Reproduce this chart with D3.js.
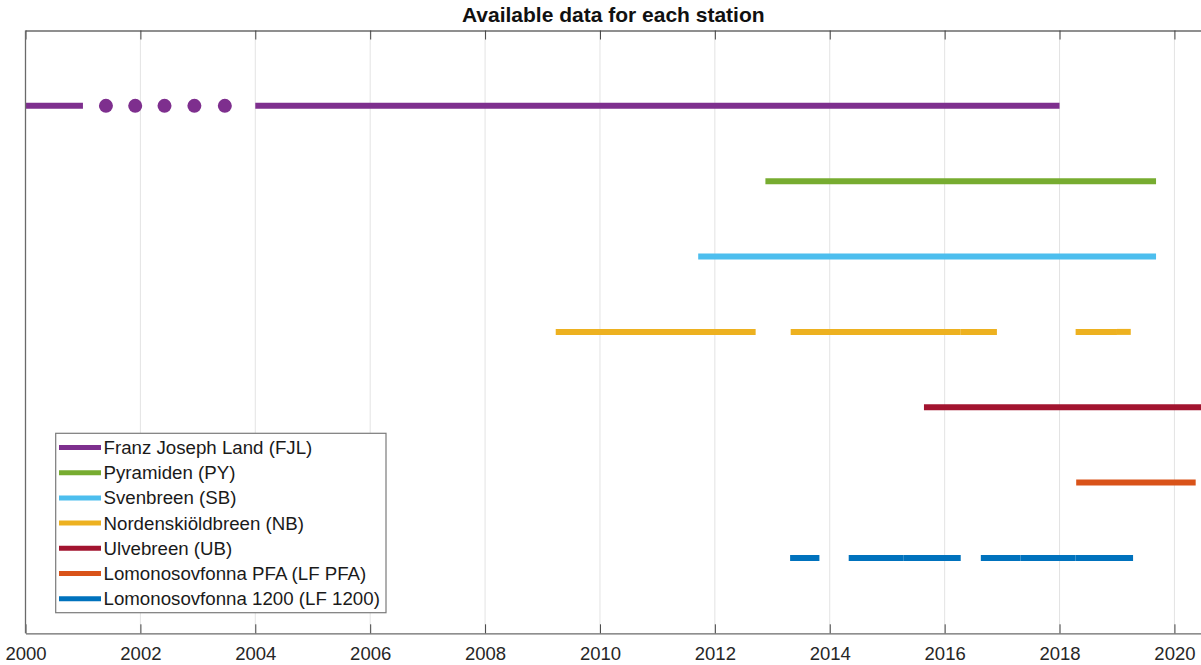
<!DOCTYPE html>
<html>
<head>
<meta charset="utf-8">
<script src="https://cdn.jsdelivr.net/npm/d3@7"></script>
<style>
  html, body { margin: 0; padding: 0; background: #fff; }
  svg { display: block; font-family: "Liberation Sans", Arial, Helvetica, sans-serif; }
</style>
</head>
<body>
<svg id="chart" width="1201" height="665"></svg>
<script>
// Station names, in row order from top to bottom
const stations = [
  "Franz Joseph Land (FJL)",
  "Pyramiden (PY)",
  "Svenbreen (SB)",
  "Nordenskiöldbreen (NB)",
  "Ulvebreen (UB)",
  "Lomonosovfonna PFA (LF PFA)",
  "Lomonosovfonna 1200 (LF 1200)"
];

const colors = ["#7E2F8E", "#77AC30", "#4DBEEE", "#EDB120", "#A2142F", "#D95319", "#0072BD"];

// Periods with data, as [start, end] in decimal years
const fjlPeriods    = [[2000.0, 2001.0], [2004.0, 2018.0]];
const pyPeriods     = [[2012.88, 2019.68]];
const sbPeriods     = [[2011.71, 2019.68]];
const nbPeriods     = [[2009.23, 2012.71], [2013.32, 2016.28], [2016.28, 2016.91], [2018.28, 2019.0], [2019.0, 2019.24]];
const ubPeriods     = [[2015.64, 2020.65]];
const lfPfaPeriods  = [[2018.29, 2020.37]];
const lf1200Periods = [[2013.31, 2013.82], [2014.33, 2015.28], [2015.28, 2016.28], [2016.63, 2017.32], [2017.32, 2018.28], [2018.28, 2019.28]];

// Single-sample years for FJL (drawn as dots)
const fjlPoints = [2001.40, 2001.91, 2002.42, 2002.94, 2003.47];

const tickYears = [2000, 2002, 2004, 2006, 2008, 2010, 2012, 2014, 2016, 2018, 2020];

const periods = [fjlPeriods, pyPeriods, sbPeriods, nbPeriods, ubPeriods, lfPfaPeriods, lf1200Periods];

const svg = d3.select("#chart");
const plotLeft = 25.5, plotRight = 1202, plotTop = 30.5, plotBottom = 633.3;

const x = d3.scaleLinear().domain([2000, 2020.48]).range([plotLeft, plotRight]);
const y = d3.scaleLinear().domain([0, stations.length + 1]).range([plotTop, plotBottom]);

svg.append("defs").append("clipPath").attr("id", "plotclip")
  .append("rect").attr("x", plotLeft).attr("y", plotTop)
  .attr("width", plotRight - plotLeft).attr("height", plotBottom - plotTop);

// Grid lines
svg.append("g").selectAll("line").data(tickYears).join("line")
  .attr("x1", d => x(d)).attr("x2", d => x(d))
  .attr("y1", plotTop).attr("y2", plotBottom)
  .attr("stroke", "#e3e3e3").attr("stroke-width", 1);

// Bars for each period
const plot = svg.append("g").attr("clip-path", "url(#plotclip)");
periods.forEach((list, i) => {
  plot.append("g").selectAll("line").data(list).join("line")
    .attr("x1", d => x(d[0])).attr("x2", d => x(d[1]))
    .attr("y1", y(i + 1)).attr("y2", y(i + 1))
    .attr("stroke", colors[i]).attr("stroke-width", 6).attr("stroke-linecap", "butt");
});
plot.append("g").selectAll("circle").data(fjlPoints).join("circle")
  .attr("cx", d => x(d)).attr("cy", y(1)).attr("r", 7)
  .attr("fill", colors[0]);

// Axes box and ticks
const axisColor = "#6a6a6a";
const xAxisBottom = d3.axisBottom(x).tickValues(tickYears).tickFormat(d3.format("d"))
  .tickSizeInner(-9).tickSizeOuter(0).tickPadding(14);
const gx = svg.append("g").attr("transform", `translate(0,${plotBottom})`).call(xAxisBottom);
gx.select(".domain").attr("stroke", axisColor).attr("stroke-width", 1.3);
gx.selectAll(".tick line").attr("stroke", "#444").attr("stroke-width", 1);
gx.selectAll(".tick text").attr("fill", "#262626").attr("font-size", 18.5)
  .attr("font-family", "Liberation Sans, Arial, sans-serif");

const xAxisTop = d3.axisTop(x).tickValues(tickYears).tickFormat("")
  .tickSizeInner(-9).tickSizeOuter(0);
const gt = svg.append("g").attr("transform", `translate(0,${plotTop})`).call(xAxisTop);
gt.select(".domain").attr("stroke", axisColor).attr("stroke-width", 1.3);
gt.selectAll(".tick line").attr("stroke", "#444").attr("stroke-width", 1);

svg.append("line").attr("x1", plotLeft).attr("x2", plotLeft).attr("y1", plotTop).attr("y2", plotBottom)
  .attr("stroke", axisColor).attr("stroke-width", 1.3);

// Title
svg.append("text").attr("x", (plotLeft + 1201) / 2).attr("y", 22)
  .attr("text-anchor", "middle").attr("font-weight", "bold").attr("font-size", 21)
  .attr("fill", "#111").text("Available data for each station");

// Legend
const lg = svg.append("g");
lg.append("rect").attr("x", 55.7).attr("y", 433.3).attr("width", 330.3).attr("height", 179.4)
  .attr("fill", "#fff").attr("stroke", "#7a7a7a").attr("stroke-width", 1.2);
const rowY = i => 447.5 + i * 25.2;
lg.selectAll("line.key").data(stations).join("line").attr("class", "key")
  .attr("x1", 59).attr("x2", 101)
  .attr("y1", (d, i) => rowY(i)).attr("y2", (d, i) => rowY(i))
  .attr("stroke", (d, i) => colors[i]).attr("stroke-width", 5);
lg.selectAll("text").data(stations).join("text")
  .attr("x", 103.5).attr("y", (d, i) => rowY(i) + 6.5)
  .attr("font-size", 18.7).attr("fill", "#1a1a1a").text(d => d);
</script>
</body>
</html>
